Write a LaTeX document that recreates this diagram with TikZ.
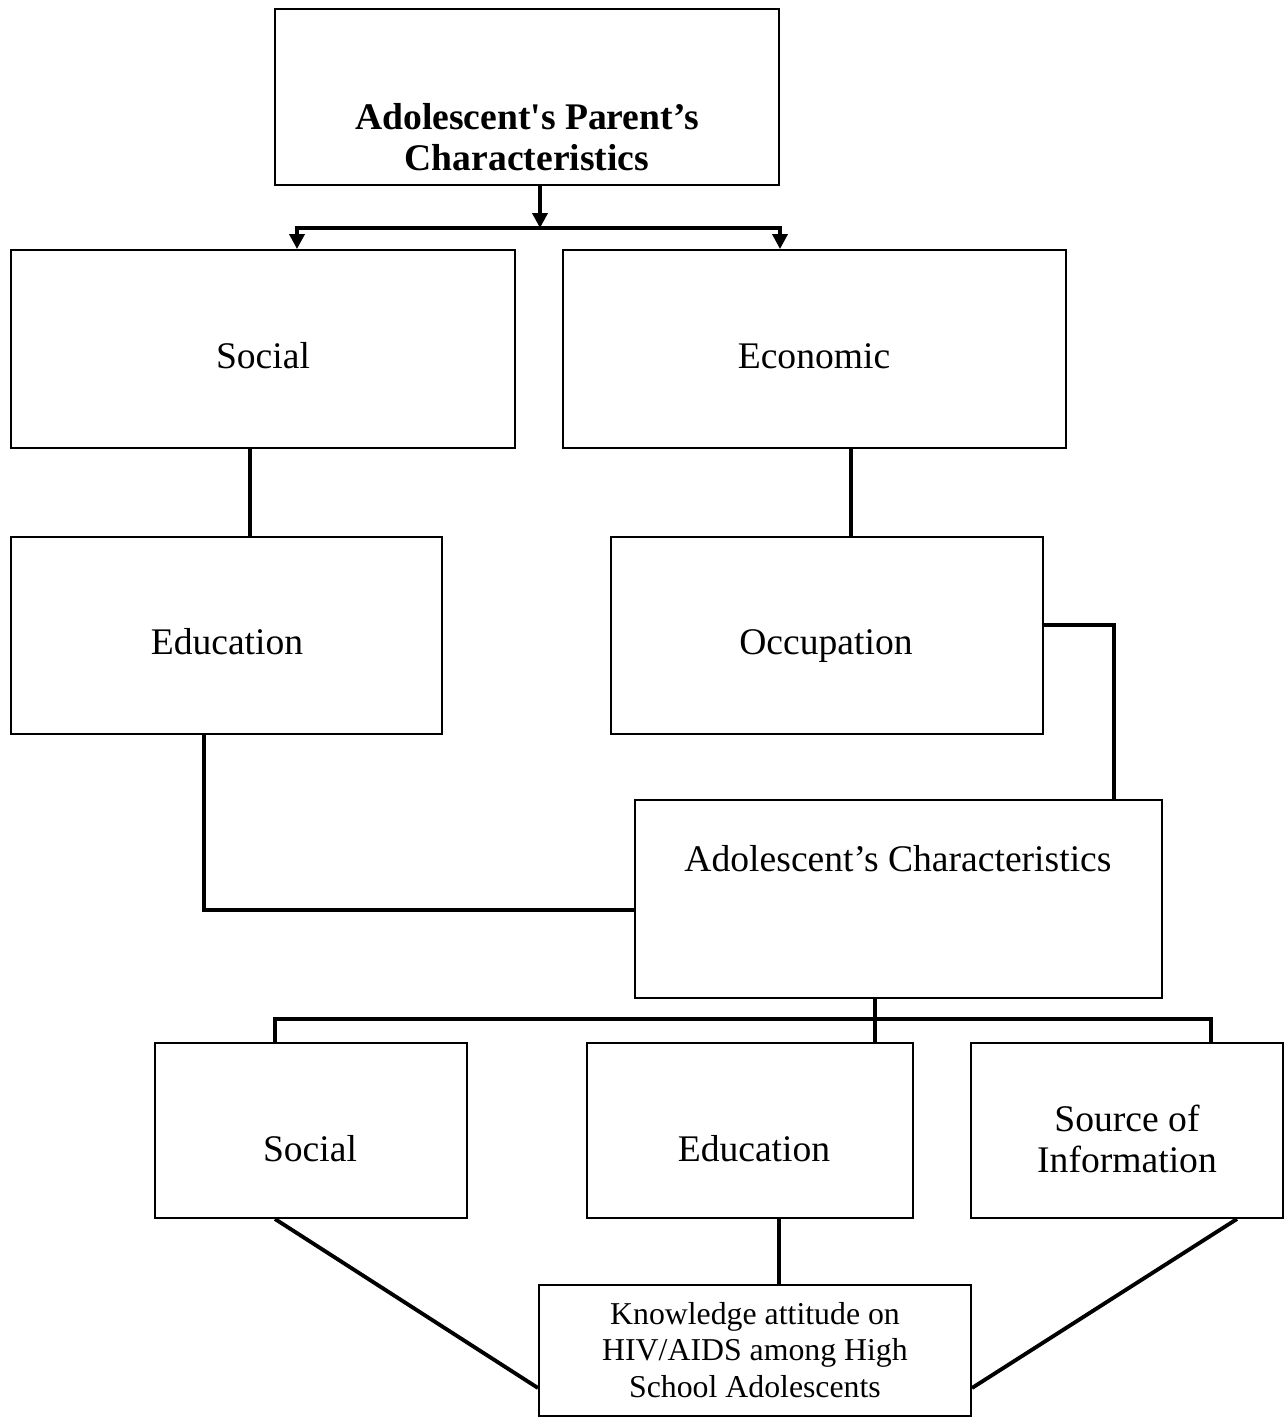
\documentclass[tikz,border=0pt]{standalone}
\usepackage{fontspec}
\setmainfont{Liberation Serif}
\usetikzlibrary{arrows.meta, positioning, fit}

\begin{document}
\begin{tikzpicture}[x=0.02cm, y=-0.02cm,
	box/.style={draw, line width=1.1pt, inner sep=0pt},
	txt/.style={inner sep=0pt, align=center, font=\fontsize{21.4}{23}\selectfont},
	link/.style={line width=2.2pt},
	feed/.style={-{Triangle[length=8.5pt, width=8.5pt]}, line width=2pt}]
	\useasboundingbox (0,0) rectangle (1288,1418);
	%--- parent level ---
	\node[box, fit={(275,9) (779,185)}] (par) {};
	\node[txt, font=\fontsize{21.4}{23.2}\selectfont\bfseries] (par-t) at (527,137)
	{Adolescent\textquotesingle s Parent’s\\Characteristics};
	\node[box, fit={(11,250) (515,448)}] (soc) {};
	\node[txt, anchor=base] (soc-t) at (263,368) {Social};
	\node[box, fit={(563,250) (1066,448)}] (eco) {};
	\node[txt, anchor=base] (eco-t) at (814,368) {Economic};
	\node[box, fit={(11,537) (442,734)}] (edu) {};
	\node[txt, anchor=base] (edu-t) at (227,654) {Education};
	\node[box, fit={(611,537) (1043,734)}] (occ) {};
	\node[txt, anchor=base] (occ-t) at (826,654) {Occupation};
	%--- adolescent level ---
	\node[box, fit={(635,800) (1162,998)}] (ado) {};
	\node[txt, anchor=base] (ado-t) at (898,871) {Adolescent’s Characteristics};
	\node[box, fit={(155,1043) (467,1218)}] (soc2) {};
	\node[txt, anchor=base] (soc2-t) at (310,1161) {Social};
	\node[box, fit={(587,1043) (913,1218)}] (edu2) {};
	\node[txt, anchor=base] (edu2-t) at (754,1161) {Education};
	\node[box, fit={(971,1043) (1283,1218)}] (src) {};
	\node[txt, font=\fontsize{21.4}{23.2}\selectfont] (src-t) at (1127,1139)
	{Source of\\Information};
	\node[box, fit={(539,1285) (971,1416)}] (know) {};
	\node[txt, font=\fontsize{18.1}{20.7}\selectfont] (know-t) at (755,1350)
	{Knowledge attitude on\\HIV/AIDS among High\\School Adolescents};
	%--- connectors ---
	\coordinate (split) at (540,228);
	\draw[feed] (par.south -| split) -- (split);
	\draw[feed] (split) -| (soc.north -| 297,0);
	\draw[feed] (split) -| (eco.north -| 780,0);
	\draw[link] (soc.south -| 250,0) -- (edu.north -| 250,0);
	\draw[link] (eco.south -| 851,0) -- (occ.north -| 851,0);
	\draw[link] (occ.east |- 0,625) -| (ado.north -| 1114,0);
	\draw[link] (edu.south -| 204,0) |- (ado.west |- 0,910);
	\draw[link] (ado.south -| 875,0) -- (edu2.north -| 875,0);
	\draw[link] (soc2.north -| 275,0) -- ++(0,-23) -| (src.north -| 1211,0);
	\draw[link] (edu2.south -| 779,0) -- (know.north -| 779,0);
	\draw[link] (soc2.south -| 275,0) -- (know.west |- 0,1388);
	\draw[link] (src.south -| 1237,0) -- (know.east |- 0,1388);
\end{tikzpicture}
\end{document}
